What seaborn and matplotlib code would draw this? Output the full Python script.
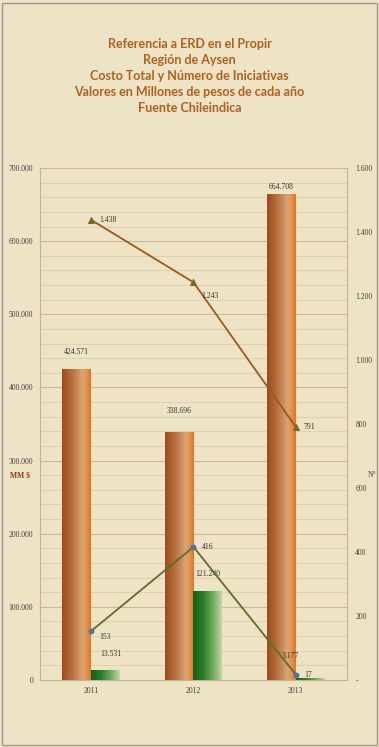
import numpy as np
import pandas as pd
import matplotlib
matplotlib.use("Agg")
import matplotlib.pyplot as plt
import seaborn as sns
from matplotlib.colors import LinearSegmentedColormap
from matplotlib.patches import Rectangle

# ---------------------------------------------------------------------------
# Data
# ---------------------------------------------------------------------------
YEARS = ["2011", "2012", "2013"]
COSTO_TOTAL = [424571, 338696, 664708]       # MM $ (brown bars)
COSTO_ERD = [13531, 121240, 3177]            # MM $ (green bars)
N_TOTAL = [1438, 1243, 791]                  # N° (brown line)
N_ERD = [153, 416, 17]                       # N° (green line)

LEFT_TICKS = [0, 100000, 200000, 300000, 400000, 500000, 600000, 700000]
RIGHT_TICKS = [0, 200, 400, 600, 800, 1000, 1200, 1400, 1600]

TITLE = ("Referencia a ERD en el Propir\nRegión de Aysen\n"
         "Costo Total y Número de Iniciativas\n"
         "Valores en Millones de pesos de cada año\nFuente Chileindica")

BG = "#efe3c6"
TITLE_COLOR = "#b0601e"


def fmt_miles(v):
    return f"{v:,.0f}".replace(",", ".")


sns.set_theme(style="white")
plt.rcParams["font.family"] = ["Liberation Serif", "DejaVu Serif"]

fig = plt.figure(figsize=(3.79, 7.47), dpi=100, facecolor=BG)
fig.patches.append(Rectangle((0.004, 0.003), 0.99, 0.993, transform=fig.transFigure,
                             fill=False, edgecolor="#9a9a9a", linewidth=1.0))
ax = fig.add_axes([0.1055, 0.0897, 0.81, 0.6853])
ax.set_facecolor("none")

df = pd.DataFrame({
    "year": YEARS * 2,
    "valor": COSTO_TOTAL + COSTO_ERD,
    "serie": ["Costo Total"] * 3 + ["Costo ERD"] * 3,
})
sns.barplot(data=df, x="year", y="valor", hue="serie", ax=ax, width=0.56,
            palette=["#c06a2a", "#2a7a2a"], legend=False, saturation=1)

# gradient fills
brown_cmap = LinearSegmentedColormap.from_list(
    "brown", [(0, "#9c4a1e"), (0.35, "#b8703e"), (0.72, "#dba676"),
              (0.86, "#e2914a"), (1, "#e37224")])
green_cmap = LinearSegmentedColormap.from_list(
    "green", [(0, "#11601a"), (0.35, "#2a7d2a"), (0.75, "#7fb36a"), (1, "#c2d9a4")])
grad = np.linspace(0, 1, 256).reshape(1, -1)
for i, patch in enumerate(ax.patches):
    x0, y0 = patch.get_x(), patch.get_y()
    w, h = patch.get_width(), patch.get_height()
    cmap = brown_cmap if i < 3 else green_cmap
    im = ax.imshow(grad, cmap=cmap, aspect="auto", extent=[x0, x0 + w, y0, y0 + h],
                   zorder=2, interpolation="bilinear")
    im.set_clip_path(patch)
    patch.set_facecolor("none")
    patch.set_edgecolor("none")

ax.set_xlim(-0.5, 2.5)
ax.set_ylim(0, 700000)
ax.set_yticks(LEFT_TICKS)
ax.set_yticklabels([fmt_miles(v) for v in LEFT_TICKS])
ax.set_yticks(np.arange(0, 700001, 20000), minor=True)
ax.grid(axis="y", which="minor", color="#dccdb0", linewidth=0.6, zorder=0)
ax.grid(axis="y", which="major", color="#cbb99a", linewidth=0.8, zorder=0)
ax.set_axisbelow(True)
ax.tick_params(axis="y", which="both", labelsize=5.5, colors="#404040", length=0, pad=5)
ax.tick_params(axis="x", labelsize=5.5, colors="#404040", length=0, pad=5)
ax.set_xlabel("")
ax.set_ylabel("")
for side in ["left", "right", "bottom"]:
    ax.spines[side].set_color("#c4b497")
    ax.spines[side].set_linewidth(0.8)
ax.spines["top"].set_visible(False)

# bar labels (offsets in pixels from bar top to label centre)
brown_off = [(0, 17), (0, 21), (0, 7)]
green_off = [(5, 16), (0, 17), (-20, 22)]
for i, v in enumerate(COSTO_TOTAL):
    p = ax.patches[i]
    ax.annotate(fmt_miles(v), (p.get_x() + p.get_width() / 2, v),
                xytext=brown_off[i], textcoords="offset pixels",
                ha="center", va="center", fontsize=5.5, color="#333333")
for i, v in enumerate(COSTO_ERD):
    p = ax.patches[3 + i]
    ax.annotate(fmt_miles(v), (p.get_x() + p.get_width() / 2, v),
                xytext=green_off[i], textcoords="offset pixels",
                ha="center", va="center", fontsize=5.5, color="#333333")

# lines on secondary axis
ax2 = ax.twinx()
xs = np.arange(len(YEARS))
sns.lineplot(x=xs, y=N_TOTAL, ax=ax2, color="#9a5a1c", linewidth=1.3,
             marker="^", markersize=4, markerfacecolor="#7a6a1e",
             markeredgecolor="#7a6a1e")
sns.lineplot(x=xs, y=N_ERD, ax=ax2, color="#5b6e2a", linewidth=1.3,
             marker="o", markersize=3.5, markerfacecolor="#4f7592",
             markeredgecolor="#4f7592")
ax2.set_ylim(0, 1600)
ax2.set_yticks(RIGHT_TICKS)
ax2.set_yticklabels(["-"] + [fmt_miles(v) for v in RIGHT_TICKS[1:]])
ax2.tick_params(axis="y", labelsize=5.5, colors="#404040", length=0, pad=6)
ax2.grid(False)
for s in ax2.spines.values():
    s.set_visible(False)

total_off = [(8, 0), (8, -14), (8, 0)]
erd_off = [(8, -6), (8, 0), (8, 0)]
for i in range(3):
    ax2.annotate(fmt_miles(N_TOTAL[i]), (xs[i], N_TOTAL[i]), xytext=total_off[i],
                 textcoords="offset pixels", ha="left", va="center",
                 fontsize=5.5, color="#333333")
    ax2.annotate(fmt_miles(N_ERD[i]), (xs[i], N_ERD[i]), xytext=erd_off[i],
                 textcoords="offset pixels", ha="left", va="center",
                 fontsize=5.5, color="#333333")

# axis titles
fig.text(10 / 379, 1 - 475 / 747, "MM $", fontsize=5.5, color="#8b3a1a",
         ha="left", va="center", fontweight="bold")
fig.text(368 / 379, 1 - 475 / 747, "N°", fontsize=5.5, color="#404040",
         ha="left", va="center")

# title
fig.text(0.5, 1 - 76 / 747, TITLE, ha="center", va="center", fontsize=9,
         fontweight="bold", color=TITLE_COLOR, family=["Lato", "DejaVu Sans"],
         linespacing=1.38)

fig.savefig("out.png", dpi=100, facecolor=BG)
